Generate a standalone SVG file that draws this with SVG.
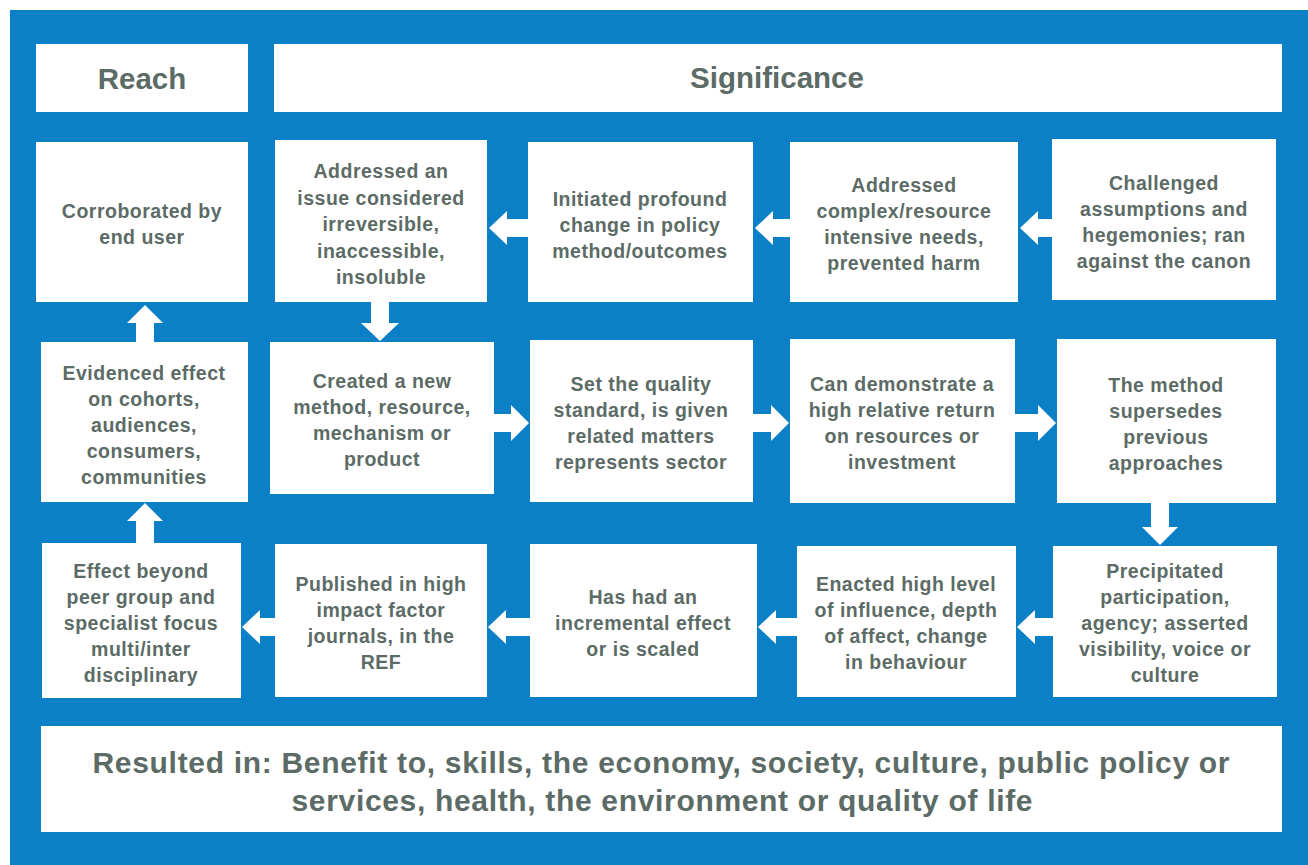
<svg xmlns="http://www.w3.org/2000/svg" width="1308" height="865" viewBox="0 0 1308 865">
<style>
.bg{fill:#0b80c7}
.box{fill:#ffffff}
.t{font-family:"Liberation Sans",Arial,sans-serif;font-weight:bold;fill:#5c6b66;text-anchor:middle}
.b{font-size:19.5px;letter-spacing:0.5px}
.h{font-size:29.5px}
.r{font-size:30px}
.arr{fill:#ffffff}
</style>
<rect x="0" y="0" width="1308" height="865" fill="#ffffff"/>
<rect class="bg" x="10" y="10" width="1298" height="855"/>

<g id="reach">
<rect class="box" x="36" y="44" width="212" height="68"/>
<text class="t h" x="142" y="89">Reach</text>
</g>
<g id="significance">
<rect class="box" x="274" y="44" width="1008" height="68"/>
<text class="t h" x="777" y="88">Significance</text>
</g>

<g id="corroborated">
<rect class="box" x="36" y="142" width="212" height="160"/>
<text class="t b" x="142" y="218">Corroborated by<tspan x="142" dy="26">end user</tspan></text>
</g>
<g id="addressed-issue">
<rect class="box" x="275" y="140" width="212" height="162"/>
<text class="t b" x="381" y="178">Addressed an<tspan x="381" dy="26.5">issue considered</tspan><tspan x="381" dy="26.5">irreversible,</tspan><tspan x="381" dy="26.5">inaccessible,</tspan><tspan x="381" dy="26.5">insoluble</tspan></text>
</g>
<g id="initiated">
<rect class="box" x="528" y="142" width="225" height="160"/>
<text class="t b" x="640" y="206">Initiated profound<tspan x="640" dy="26">change in policy</tspan><tspan x="640" dy="26">method/outcomes</tspan></text>
</g>
<g id="addressed-complex">
<rect class="box" x="790" y="142" width="228" height="160"/>
<text class="t b" x="904" y="192">Addressed<tspan x="904" dy="26">complex/resource</tspan><tspan x="904" dy="26">intensive needs,</tspan><tspan x="904" dy="26">prevented harm</tspan></text>
</g>
<g id="challenged">
<rect class="box" x="1052" y="139" width="224" height="161"/>
<text class="t b" x="1164" y="190">Challenged<tspan x="1164" dy="26">assumptions and</tspan><tspan x="1164" dy="26">hegemonies; ran</tspan><tspan x="1164" dy="26">against the canon</tspan></text>
</g>

<g id="evidenced">
<rect class="box" x="41" y="342" width="207" height="160"/>
<text class="t b" x="144" y="380">Evidenced effect<tspan x="144" dy="26">on cohorts,</tspan><tspan x="144" dy="26">audiences,</tspan><tspan x="144" dy="26">consumers,</tspan><tspan x="144" dy="26">communities</tspan></text>
</g>
<g id="created">
<rect class="box" x="270" y="342" width="224" height="152"/>
<text class="t b" x="382" y="388">Created a new<tspan x="382" dy="26">method, resource,</tspan><tspan x="382" dy="26">mechanism or</tspan><tspan x="382" dy="26">product</tspan></text>
</g>
<g id="set-quality">
<rect class="box" x="530" y="340" width="223" height="162"/>
<text class="t b" x="641" y="391">Set the quality<tspan x="641" dy="26">standard, is given</tspan><tspan x="641" dy="26">related matters</tspan><tspan x="641" dy="26">represents sector</tspan></text>
</g>
<g id="demonstrate">
<rect class="box" x="790" y="339" width="225" height="164"/>
<text class="t b" x="902" y="391">Can demonstrate a<tspan x="902" dy="26">high relative return</tspan><tspan x="902" dy="26">on resources or</tspan><tspan x="902" dy="26">investment</tspan></text>
</g>
<g id="method">
<rect class="box" x="1057" y="339" width="219" height="164"/>
<text class="t b" x="1166" y="392">The method<tspan x="1166" dy="26">supersedes</tspan><tspan x="1166" dy="26">previous</tspan><tspan x="1166" dy="26">approaches</tspan></text>
</g>

<g id="effect-beyond">
<rect class="box" x="42" y="543" width="199" height="155"/>
<text class="t b" x="141" y="578">Effect beyond<tspan x="141" dy="26">peer group and</tspan><tspan x="141" dy="26">specialist focus</tspan><tspan x="141" dy="26">multi/inter</tspan><tspan x="141" dy="26">disciplinary</tspan></text>
</g>
<g id="published">
<rect class="box" x="275" y="544" width="212" height="153"/>
<text class="t b" x="381" y="591">Published in high<tspan x="381" dy="26">impact factor</tspan><tspan x="381" dy="26">journals, in the</tspan><tspan x="381" dy="26">REF</tspan></text>
</g>
<g id="incremental">
<rect class="box" x="530" y="544" width="227" height="153"/>
<text class="t b" x="643" y="604">Has had an<tspan x="643" dy="26">incremental effect</tspan><tspan x="643" dy="26">or is scaled</tspan></text>
</g>
<g id="enacted">
<rect class="box" x="797" y="546" width="219" height="151"/>
<text class="t b" x="906" y="591">Enacted high level<tspan x="906" dy="26">of influence, depth</tspan><tspan x="906" dy="26">of affect, change</tspan><tspan x="906" dy="26">in behaviour</tspan></text>
</g>
<g id="precipitated">
<rect class="box" x="1053" y="546" width="224" height="151"/>
<text class="t b" x="1165" y="578">Precipitated<tspan x="1165" dy="26">participation,</tspan><tspan x="1165" dy="26">agency; asserted</tspan><tspan x="1165" dy="26">visibility, voice or</tspan><tspan x="1165" dy="26">culture</tspan></text>
</g>

<g id="resulted">
<rect class="box" x="41" y="726" width="1241" height="106"/>
<text class="t r" x="661" y="773" textLength="1137" lengthAdjust="spacing">Resulted in: Benefit to, skills, the economy, society, culture, public policy or</text>
<text class="t r" x="662" y="811" textLength="741" lengthAdjust="spacing">services, health, the environment or quality of life</text>
</g>

<g id="connectors">
<polygon class="arr" points="489,228 507,211 507,219 529,219 529,237 507,237 507,245"/>
<polygon class="arr" points="755,228 773,211 773,219 791,219 791,237 773,237 773,245"/>
<polygon class="arr" points="1020,228 1038,211 1038,219 1053,219 1053,237 1038,237 1038,245"/>
<polygon class="arr" points="529,423 511,405 511,414 493,414 493,432 511,432 511,441"/>
<polygon class="arr" points="789,423 771,405 771,414 752,414 752,432 771,432 771,441"/>
<polygon class="arr" points="1056,423 1038,405 1038,414 1014,414 1014,432 1038,432 1038,441"/>
<polygon class="arr" points="1017,627 1035,610 1035,618 1054,618 1054,636 1035,636 1035,644"/>
<polygon class="arr" points="758,627 776,610 776,618 798,618 798,636 776,636 776,644"/>
<polygon class="arr" points="488,627 506,610 506,618 531,618 531,636 506,636 506,644"/>
<polygon class="arr" points="242,627 260,610 260,618 276,618 276,636 260,636 260,644"/>
<polygon class="arr" points="371,301 389,301 389,323 399,323 380,341 361,323 371,323"/>
<polygon class="arr" points="1151,502 1169,502 1169,527 1178,527 1160,545 1142,527 1151,527"/>
<polygon class="arr" points="145,305 163,323 154,323 154,343 136,343 136,323 127,323"/>
<polygon class="arr" points="145,503 163,521 154,521 154,544 136,544 136,521 127,521"/>
</g>
</svg>
